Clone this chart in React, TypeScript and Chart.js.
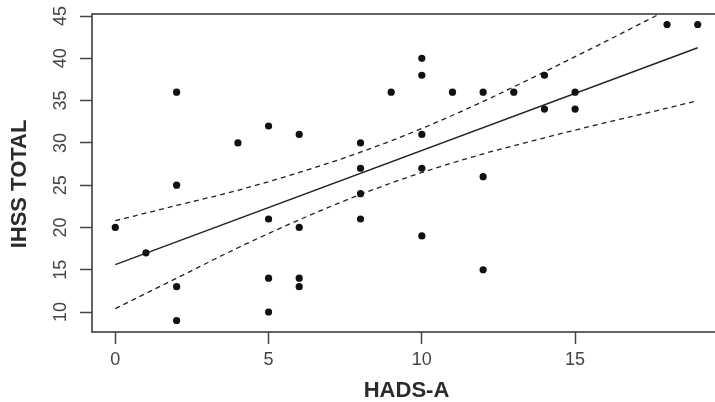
import { useEffect, useRef } from "react";
import { Chart, registerables } from "chart.js";

Chart.register(...registerables);

// HADS-A (x) vs IHSS TOTAL (y) observations
const hadsA = [0, 1, 2, 2, 2, 2, 4, 5, 5, 5, 5, 6, 6, 6, 6, 8, 8, 8, 8, 9, 10, 10, 10, 10, 10, 11, 12, 12, 12, 13, 14, 14, 15, 15, 18, 19];
const ihssTotal = [20, 17, 36, 25, 13, 9, 30, 32, 21, 14, 10, 31, 20, 14, 13, 30, 27, 24, 21, 36, 40, 38, 31, 27, 19, 36, 36, 26, 15, 36, 38, 34, 36, 34, 44, 44];

// fitted regression line
const fitX = [0, 19];
const fitY = [15.6, 41.25];

// confidence band
const bandX = [0, 2, 4, 6, 8, 10, 12, 14, 16, 18, 19];
const bandUpper = [20.8, 22.6, 24.4, 26.5, 28.9, 31.7, 34.9, 38.4, 42.0, 45.7, 47.5];
const bandLower = [10.4, 14.0, 17.6, 20.9, 23.9, 26.5, 28.7, 30.6, 32.4, 34.1, 35.0];

// axes
const xMin = -0.76;
const xMax = 19.76;
const yMin = 7.64;
const yMax = 45.24;
const xTickStep = 5;
const yTickStep = 5;
const xTitle = "HADS-A";
const yTitle = "IHSS TOTAL";

const toPts = (xs: number[], ys: number[]) => xs.map((x, i) => ({ x, y: ys[i] }));

const FONT = '"Liberation Sans", Arial, Helvetica, sans-serif';

const noPad = (s: any) => {
  s.paddingTop = 0;
  s.paddingBottom = 0;
  s.paddingLeft = 0;
  s.paddingRight = 0;
};

export default function App() {
  const ref = useRef<HTMLCanvasElement>(null);

  useEffect(() => {
    if (!ref.current) return;

    const boxPlugin = {
      id: "rbox",
      afterDatasetsDraw(chart: any) {
        const { ctx, chartArea: a } = chart;
        ctx.save();
        ctx.strokeStyle = "#3c3c3c";
        ctx.lineWidth = 1.6;
        ctx.strokeRect(a.left, a.top, a.right - a.left, a.bottom - a.top);
        ctx.restore();
      },
    };

    const yTitlePlugin = {
      id: "ytitle",
      afterDraw(chart: any) {
        const { ctx, chartArea: a } = chart;
        ctx.save();
        ctx.translate(19.5, (a.top + a.bottom) / 2 + 11);
        ctx.rotate(-Math.PI / 2);
        ctx.font = `bold 22px ${FONT}`;
        ctx.fillStyle = "#2b2b2b";
        ctx.textAlign = "center";
        ctx.textBaseline = "middle";
        ctx.fillText(yTitle, 0, 0);
        ctx.restore();
      },
    };

    const chart = new Chart(ref.current, {
      type: "scatter",
      data: {
        datasets: [
          {
            label: "points",
            data: toPts(hadsA, ihssTotal),
            pointRadius: 3.6,
            pointBackgroundColor: "#111",
            pointBorderWidth: 0,
            showLine: false,
          },
          {
            label: "fit",
            type: "line",
            data: toPts(fitX, fitY),
            borderColor: "#222",
            borderWidth: 1.4,
            pointRadius: 0,
            fill: false,
          },
          {
            label: "upper",
            type: "line",
            data: toPts(bandX, bandUpper),
            borderColor: "#222",
            borderWidth: 1.3,
            borderDash: [5, 4],
            pointRadius: 0,
            cubicInterpolationMode: "monotone",
            fill: false,
          },
          {
            label: "lower",
            type: "line",
            data: toPts(bandX, bandLower),
            borderColor: "#222",
            borderWidth: 1.3,
            borderDash: [5, 4],
            pointRadius: 0,
            cubicInterpolationMode: "monotone",
            fill: false,
          },
        ] as any,
      },
      options: {
        responsive: false,
        animation: false,
        devicePixelRatio: 1,
        layout: { padding: { top: 14, right: 9, left: 0, bottom: 0 } },
        plugins: {
          legend: { display: false },
          tooltip: { enabled: false },
        },
        scales: {
          x: {
            type: "linear",
            position: "bottom",
            min: xMin,
            max: xMax,
            afterFit: (s: any) => {
              s.height = 70;
              noPad(s);
            },
            ticks: {
              stepSize: xTickStep,
              includeBounds: false,
              autoSkip: false,
              maxRotation: 0,
              color: "#444",
              padding: 5,
              font: { family: FONT, size: 18 },
            },
            grid: {
              display: true,
              drawOnChartArea: false,
              drawTicks: true,
              tickLength: 12,
              tickWidth: 1.5,
              tickColor: "#444",
            },
            border: { display: false },
            title: {
              display: true,
              text: xTitle,
              color: "#2b2b2b",
              padding: { top: 0, bottom: 0 },
              font: { family: FONT, size: 22, weight: "bold", lineHeight: 1 },
            },
          },
          y: {
            type: "linear",
            position: "left",
            min: yMin,
            max: yMax,
            afterFit: (s: any) => {
              s.width = 92;
              noPad(s);
            },
            ticks: {
              stepSize: yTickStep,
              includeBounds: false,
              autoSkip: false,
              minRotation: 90,
              maxRotation: 90,
              crossAlign: "center",
              color: "#444",
              padding: 9,
              font: { family: FONT, size: 18 },
            },
            grid: {
              display: true,
              drawOnChartArea: false,
              drawTicks: true,
              tickLength: 12,
              tickWidth: 1.5,
              tickColor: "#444",
            },
            border: { display: false },
          },
        },
      } as any,
      plugins: [boxPlugin, yTitlePlugin],
    });

    return () => chart.destroy();
  }, []);

  return (
    <div
      style={{
        position: "fixed",
        left: 0,
        top: 0,
        width: 715,
        height: 402,
        overflow: "hidden",
        background: "#fff",
      }}
    >
      <canvas ref={ref} width={730} height={402} style={{ display: "block", width: 730, height: 402 }} />
    </div>
  );
}
